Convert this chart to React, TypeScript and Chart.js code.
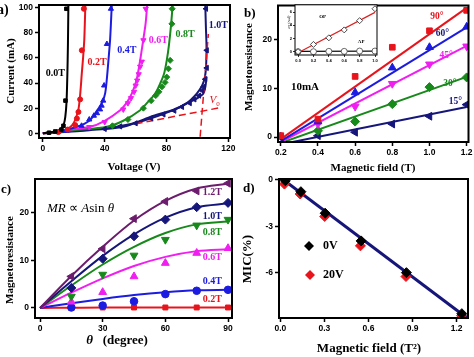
import React, { useEffect, useRef } from "react";
import { Chart, registerables } from "chart.js";
Chart.register(...registerables);

type P = [number, number];

// ---------------- Panel a : I-V curves ----------------
const A_X_TICKS = [0, 40, 80, 120];
const A_Y_TICKS = [0, 20, 40, 60, 80, 100];
const A_LINE_00: P[] = [[0, 0], [5, 0.8], [9, 2], [12, 4], [13.5, 7], [14.5, 13], [15.3, 25], [15.8, 45], [16.2, 70], [16.5, 103]];
const A_PTS_00: P[] = [[4, 0.5], [8, 1.5], [12, 3], [13.3, 6], [14.6, 26], [15.2, 99]];
const A_LINE_02: P[] = [[0, 0], [8, 1], [13, 2], [16, 3.5], [19, 6.5], [21, 11], [23, 19], [24.2, 32], [25.2, 48], [26, 60], [26.8, 75], [27.5, 103]];
const A_PTS_02: P[] = [[10, 1], [16, 3], [20.9, 6.6], [22, 11.8], [23, 17], [24.1, 27], [25.2, 66], [26.5, 99]];
const A_LINE_04: P[] = [[0, 0], [10, 1.5], [22, 5.2], [30, 10], [35, 18], [38.5, 25], [40.3, 32], [41.5, 45], [42.4, 58], [43.5, 75], [44.6, 103]];
const A_PTS_04: P[] = [[15, 2], [25, 6], [30, 11], [33, 14], [35, 16], [37, 19], [38, 22], [39, 26], [39.6, 38], [41.4, 71], [44, 99]];
const A_LINE_06: P[] = [[0, 0], [15, 2.5], [30.6, 5.2], [40, 10], [50, 18.4], [54, 24], [57.5, 31.6], [60.5, 42], [62.9, 58], [65, 75], [66.5, 88], [67.5, 103]];
const A_PTS_06: P[] = [[30, 5], [40, 9], [52, 19], [55, 24], [57, 28], [59, 33], [60, 38], [61, 42], [62, 47], [62.9, 53], [64, 57], [65, 74], [66.5, 99]];
const A_LINE_08: P[] = [[0, 0], [20, 2.5], [41.4, 5.2], [52, 10], [62.9, 18.4], [68, 25], [72.6, 31.6], [76, 40], [78.5, 48], [80.1, 58], [81.5, 70], [82.8, 85], [84, 103]];
const A_PTS_08: P[] = [[45, 6], [55, 11], [65, 20], [70, 26], [73, 30], [75, 33], [77, 37], [79, 40.5], [80.1, 44.7], [81.2, 51.3], [82.3, 58], [83.4, 87], [83.6, 99]];
const A_LINE_10A: P[] = [[0, 0], [25, 2.5], [47.8, 5.2], [65, 10], [84.4, 18.4], [93, 24], [99.5, 31.6], [103, 38], [104.8, 45], [105.6, 55], [105.8, 70], [105.4, 85], [105, 103]];
const A_LINE_10B: P[] = [[0, 0], [30, 2.5], [52.1, 5.2], [69.4, 13.1], [85, 19], [93, 23.7], [100, 28], [103.8, 31.6], [105.2, 38], [105.8, 45]];
const A_PTS_10: P[] = [[40, 3.5], [50, 5.5], [60, 8], [70, 12], [78, 15], [85, 18], [90, 21], [95, 24], [98, 27], [101, 30], [103, 34], [104, 37], [105, 43], [106, 52], [106, 66], [105.5, 99]];
const A_V0_H: P[] = [[60, 7.5], [115, 20.5]];
const A_V0_V: P[] = [[101.7, -2.7], [107, 79]];

// ---------------- Panel b : MR vs field ----------------
const B_X_TICKS = [0.2, 0.4, 0.6, 0.8, 1.0, 1.2];
const B_Y_TICKS = [0, 10, 20];
const B_FIELD = [0.2, 0.4, 0.6, 0.8, 1.0, 1.2];
const B_MR_90 = [0.3, 3.7, 12.5, 18.5, 21.9, 26.1];
const B_MR_60 = [0.1, 3.2, 9.2, 14.3, 18.5, 22.7];
const B_MR_45 = [null, 2.7, 6.3, 11.0, 15.0, 18.7];
const B_MR_30 = [null, 1.3, 3.2, 6.8, 10.3, 12.3];
const B_MR_15 = [0.0, 0.3, 1.0, 2.7, 4.3, 6.7];
const B_FIT_90: P[] = [[0.2, -0.4], [1.2, 26.6]];
const B_FIT_60: P[] = [[0.2, -0.8], [1.2, 22.6]];
const B_FIT_45: P[] = [[0.2, -1.0], [1.2, 18.8]];
const B_FIT_30: P[] = [[0.2, -1.2], [1.2, 12.4]];
const B_FIT_15: P[] = [[0.25, -1.1], [1.2, 6.2]];

// inset
const I_X_TICKS = [0, 0.2, 0.4, 0.6, 0.8, 1.0];
const I_Y_TICKS = [0, 2, 4, 6];
const I_FIELD = [0, 0.2, 0.4, 0.6, 0.8, 1.0];
const I_OP = [0, 1.1, 2.1, 3.3, 4.7, 6.5];
const I_AP = [0, 0, 0.05, 0.05, 0.1, 0.1];
const I_OP_FIT: P[] = [[0, -0.15], [1.0, 5.95]];
const I_AP_FIT: P[] = [[0, 0.05], [1.0, 0.1]];

// ---------------- Panel c : MR vs angle ----------------
const C_X_TICKS = [0, 30, 60, 90];
const C_Y_TICKS = [0, 10, 20];
const C_ANGLE = [15, 30, 45, 60, 75, 90];
const C_FIT_ANGLE = [0, 15, 30, 45, 60, 75, 90];
const C_MR_12 = [6.6, 12.4, 18.7, 22.3, 24.5, 26.1];
const C_MR_10 = [4.2, 10.3, 15.0, 18.5, 21.1, 22.0];
const C_MR_08 = [2.4, 7.0, 11.0, 14.3, 17.3, 18.5];
const C_MR_06 = [1.3, 3.3, 6.6, 9.4, 11.5, 12.5];
const C_MR_04 = [0.1, 0.5, 1.4, 2.9, 3.6, 3.8];
const C_MR_02 = [0.05, 0.1, 0.1, 0.1, 0.1, 0.1];
const C_FIT_12 = [0, 6.7, 12.8, 18.3, 22.4, 25.0, 26.0];
const C_FIT_10 = [0, 5.6, 10.9, 15.4, 18.9, 21.1, 21.9];
const C_FIT_08 = [0, 4.7, 9.1, 12.8, 15.7, 17.5, 18.1];
const C_FIT_06 = [0, 3.2, 6.2, 8.8, 10.7, 11.9, 12.3];
const C_FIT_04 = [0, 1.0, 1.9, 2.7, 3.3, 3.7, 3.8];
const C_FIT_02 = [0, 0.05, 0.1, 0.1, 0.1, 0.1, 0.1];

// ---------------- Panel d : MIC vs B^2 ----------------
const D_X_TICKS = [0, 0.3, 0.6, 0.9, 1.2];
const D_Y_TICKS = [0, -3, -6];
const D_B2_0V = [0.034, 0.14, 0.305, 0.55, 0.858, 1.235];
const D_MIC_0V = [-0.06, -0.77, -2.16, -3.95, -6.0, -8.65];
const D_B2_20V = [0.028, 0.135, 0.302, 0.545, 0.855, 1.233];
const D_MIC_20V = [-0.28, -0.92, -2.37, -4.27, -6.25, -8.78];
const D_FIT: P[] = [[0, 0.15], [1.28, -9.0]];

// ---------------- styling ----------------
const W = 474, H = 357;
const RED = "#e8141c", BLUE = "#1c1ce0", MAG = "#f01ef0", GREEN = "#17891a", NAVY = "#15157a", PURPLE = "#6c1c6c", BLACK = "#000";
const SB = (s: number) => `bold ${s}px "Liberation Serif"`;
const SI = (s: number) => `italic ${s}px "Liberation Serif"`;
const SR = (s: number) => `${s}px "Liberation Serif"`;

type Seg = { t: string; f: string; dy?: number; c?: string };
type Txt = { segs: Seg[]; x: number; y: number; data?: boolean; color?: string; align?: "left" | "center"; rot?: boolean; base?: CanvasTextBaseline };

const T = (t: string, x: number, y: number, color: string, size: number, extra: Partial<Txt> = {}): Txt =>
  ({ segs: [{ t, f: SB(size) }], x, y, color, data: true, align: "center", ...extra });
const PT = (t: string, x: number, y: number, size: number, extra: Partial<Txt> = {}): Txt =>
  ({ segs: [{ t, f: SB(size) }], x, y, color: BLACK, data: false, align: "center", ...extra });

const xy = (a: P[]) => a.map(([x, y]) => ({ x, y }));
const zip = (xs: number[], ys: (number | null)[]) =>
  xs.map((x, i) => ({ x, y: ys[i] })).filter((p) => p.y !== null);

const line = (data: any[], color: string, width = 2, extra: any = {}) => ({
  data, showLine: true, borderColor: color, borderWidth: width, pointRadius: 0, fill: false, ...extra,
});
const marks = (data: any[], color: string, style: string, r = 4, rot = 0, extra: any = {}) => ({
  data, showLine: false, pointStyle: style, pointRadius: r, pointRotation: rot,
  backgroundColor: color, borderColor: color, borderWidth: 1, ...extra,
});

type Panel = {
  rect: { l: number; t: number; r: number; b: number };
  x: [number, number]; y: [number, number];
  xTicks: number[]; yTicks: number[];
  xFmt: (v: number) => string; yFmt: (v: number) => string;
  tickSize: number; tickLen: number; tickPad: number; xh: number; yw: number;
  frame: number; bg?: boolean;
  datasets: any[]; texts: Txt[];
};

const int = (v: number) => String(Math.round(v));
const one = (v: number) => v.toFixed(1);

const PANEL_A: Panel = {
  rect: { l: 39, t: 4, r: 230, b: 138 }, x: [-2.5, 121], y: [-3.7, 102],
  xTicks: A_X_TICKS, yTicks: A_Y_TICKS, xFmt: int, yFmt: int,
  tickSize: 8.5, tickLen: 4, tickPad: 2, xh: 18, yw: 28, frame: 2,
  datasets: [
    marks(xy(A_PTS_00), BLACK, "rect", 2.5),
    marks(xy(A_PTS_02), RED, "circle", 2.5),
    marks(xy(A_PTS_04), BLUE, "triangle", 3),
    marks(xy(A_PTS_06), MAG, "triangle", 3, 180),
    marks(xy(A_PTS_08), GREEN, "rectRot", 3),
    marks(xy(A_PTS_10), NAVY, "triangle", 3, -90),
    line(xy(A_V0_H), RED, 1.5, { borderDash: [7, 4] }),
    line(xy(A_V0_V), RED, 1.5, { borderDash: [7, 4] }),
    line(xy(A_LINE_00), BLACK, 2, { tension: 0.3 }),
    line(xy(A_LINE_02), RED, 2, { tension: 0.3 }),
    line(xy(A_LINE_04), BLUE, 2, { tension: 0.3 }),
    line(xy(A_LINE_06), MAG, 2, { tension: 0.3 }),
    line(xy(A_LINE_08), GREEN, 2, { tension: 0.3 }),
    line(xy(A_LINE_10A), NAVY, 2, { tension: 0.3 }),
    line(xy(A_LINE_10B), NAVY, 2, { tension: 0.3 }),
  ],
  texts: [
    T("0.0T", 8, 48, BLACK, 10), T("0.2T", 35, 56.6, RED, 10), T("0.4T", 54.3, 65.8, BLUE, 10),
    T("0.6T", 74.7, 73.7, MAG, 10), T("0.8T", 92, 79, GREEN, 10), T("1.0T", 113.5, 85.5, NAVY, 10),
    { segs: [{ t: "V", f: SI(11), c: RED }, { t: "0", f: SR(7), dy: 3, c: RED }], x: 107.8, y: 24, data: true, align: "left", base: "alphabetic" },
    PT("a)", -3, 14, 14, { align: "left", base: "alphabetic" }),
    PT("Current (mA)", 11, 71, 11, { rot: true }),
    PT("Voltage (V)", 134, 167, 11),
  ],
};

const PANEL_B: Panel = {
  rect: { l: 278, t: 1, r: 469, b: 142 }, x: [0.185, 1.21], y: [-1, 27.1],
  xTicks: B_X_TICKS, yTicks: B_Y_TICKS, xFmt: one, yFmt: int,
  tickSize: 8.5, tickLen: 4, tickPad: 2, xh: 18, yw: 24, frame: 2,
  datasets: [
    marks(zip(B_FIELD, B_MR_90), RED, "rect", 4),
    marks(zip(B_FIELD, B_MR_60), BLUE, "triangle", 4.5),
    marks(zip(B_FIELD, B_MR_45), MAG, "triangle", 4.5, 180),
    marks(zip(B_FIELD, B_MR_30), GREEN, "rectRot", 4.5),
    marks(zip(B_FIELD, B_MR_15), NAVY, "triangle", 4.5, -90),
    line(xy(B_FIT_90), RED), line(xy(B_FIT_60), BLUE), line(xy(B_FIT_45), MAG),
    line(xy(B_FIT_30), GREEN), line(xy(B_FIT_15), NAVY),
  ],
  texts: [
    T("90°", 1.04, 24.8, RED, 9.5), T("60°", 1.07, 21.3, NAVY, 9.5), T("45°", 1.09, 16.7, MAG, 9.5),
    T("30°", 1.11, 11.1, GREEN, 9.5), T("15°", 1.14, 7.3, NAVY, 9.5), T("10mA", 0.33, 10.3, BLACK, 11),
    PT("b)", 244, 17, 13, { align: "left", base: "alphabetic" }),
    PT("Magnetoresistance", 249, 67, 11, { rot: true }),
    PT("Magnetic field (T)", 373, 168, 11),
  ],
};

const PANEL_INSET: Panel = {
  rect: { l: 295, t: 4, r: 377, b: 55 }, x: [-0.04, 1.026], y: [-0.5, 7.1],
  xTicks: I_X_TICKS, yTicks: I_Y_TICKS, xFmt: one, yFmt: int,
  tickSize: 4, tickLen: 2, tickPad: 1, xh: 8, yw: 6, frame: 1, bg: true,
  datasets: [
    marks(zip(I_FIELD, I_OP), "#fff", "rectRot", 3, 0, { borderColor: "#222", borderWidth: 0.8 }),
    marks(zip(I_FIELD, I_AP), "#fff", "circle", 3, 0, { borderColor: "#444", borderWidth: 0.8 }),
    line(xy(I_OP_FIT), "#d22", 1.2),
    line(xy(I_AP_FIT), "#111", 1.2),
  ],
  texts: [
    T("OP", 0.32, 5.3, BLACK, 5), T("AP", 0.82, 1.5, BLACK, 5),
    { segs: [{ t: "σ", f: SI(4) }, { t: "T", f: SI(3), dy: 1 }, { t: " (rad)", f: SI(4) }], x: 289, y: 22, color: BLACK, align: "center", rot: true },
  ],
};

const PANEL_C: Panel = {
  rect: { l: 35, t: 179, r: 232, b: 318 }, x: [-2.4, 91.9], y: [-2.1, 27.0],
  xTicks: C_X_TICKS, yTicks: C_Y_TICKS, xFmt: int, yFmt: int,
  tickSize: 8.5, tickLen: 4, tickPad: 2, xh: 18, yw: 22, frame: 2,
  datasets: [
    marks(zip(C_ANGLE, C_MR_12), PURPLE, "triangle", 4.5, -90),
    marks(zip(C_ANGLE, C_MR_10), NAVY, "rectRot", 4.5),
    marks(zip(C_ANGLE, C_MR_08), GREEN, "triangle", 4.5, 180),
    marks(zip(C_ANGLE, C_MR_06), MAG, "triangle", 4.5),
    marks(zip(C_ANGLE, C_MR_04), BLUE, "circle", 3.8),
    marks(zip(C_ANGLE, C_MR_02), RED, "rect", 3.5),
    line(zip(C_FIT_ANGLE, C_FIT_12), PURPLE, 2, { cubicInterpolationMode: "monotone" }),
    line(zip(C_FIT_ANGLE, C_FIT_10), NAVY, 2, { cubicInterpolationMode: "monotone" }),
    line(zip(C_FIT_ANGLE, C_FIT_08), GREEN, 2, { cubicInterpolationMode: "monotone" }),
    line(zip(C_FIT_ANGLE, C_FIT_06), MAG, 2, { cubicInterpolationMode: "monotone" }),
    line(zip(C_FIT_ANGLE, C_FIT_04), BLUE, 2, { cubicInterpolationMode: "monotone" }),
    line(zip(C_FIT_ANGLE, C_FIT_02), RED, 2, { cubicInterpolationMode: "monotone" }),
  ],
  texts: [
    T("1.2T", 82.5, 24.1, PURPLE, 10), T("1.0T", 82.5, 19.2, NAVY, 10), T("0.8T", 82.5, 15.8, GREEN, 10),
    T("0.6T", 82.5, 10.5, MAG, 10), T("0.4T", 82.5, 5.6, BLUE, 10), T("0.2T", 82.5, 1.7, RED, 10),
    {
      segs: [{ t: "MR ", f: SI(13) }, { t: "∝ ", f: SR(13) }, { t: "A", f: SI(13) }, { t: "sin", f: SR(13) }, { t: " θ", f: SI(13) }],
      x: 47, y: 212, color: BLACK, align: "left", base: "alphabetic",
    },
    PT("c)", 1, 193, 13, { align: "left", base: "alphabetic" }),
    PT("Magnetoresistance", 10, 260, 11, { rot: true }),
    { segs: [{ t: "θ", f: `italic bold 13px "Liberation Serif"` }, { t: "   (degree)", f: SB(13) }], x: 117, y: 341, color: BLACK, align: "center" },
  ],
};

const PANEL_D: Panel = {
  rect: { l: 279, t: 179, r: 469, b: 318 }, x: [-0.009, 1.277], y: [-8.93, 0.05],
  xTicks: D_X_TICKS, yTicks: D_Y_TICKS, xFmt: one, yFmt: int,
  tickSize: 8.5, tickLen: 4, tickPad: 2, xh: 18, yw: 24, frame: 2,
  datasets: [
    marks(zip(D_B2_0V, D_MIC_0V), BLACK, "rectRot", 5),
    marks(zip(D_B2_20V, D_MIC_20V), RED, "rectRot", 5),
    line(xy(D_FIT), NAVY, 3),
  ],
  texts: [
    PT("0V", 323, 246, 12, { align: "left" }),
    PT("20V", 323, 275, 12, { align: "left" }),
    PT("d)", 243, 192, 13, { align: "left", base: "alphabetic" }),
    PT("MIC(%)", 248, 259, 13, { rot: true }),
    PT("Magnetic field (T²)", 369, 349, 13),
  ],
};

const D_LEGEND = [
  { color: BLACK, x: 309, y: 246 },
  { color: RED, x: 310, y: 275 },
];

const PANELS: Panel[] = [PANEL_A, PANEL_B, PANEL_C, PANEL_D, PANEL_INSET];

function drawSegs(ctx: CanvasRenderingContext2D, segs: Seg[], x: number, y: number, align: string, color: string) {
  let w = 0;
  for (const s of segs) { ctx.font = s.f; w += ctx.measureText(s.t).width; }
  let cx = align === "center" ? x - w / 2 : x;
  ctx.textAlign = "left";
  for (const s of segs) {
    ctx.font = s.f;
    ctx.fillStyle = s.c ?? color;
    ctx.fillText(s.t, cx, y + (s.dy ?? 0));
    cx += ctx.measureText(s.t).width;
  }
}

function makeChart(canvas: HTMLCanvasElement, p: Panel, isD: boolean) {
  const { l, t, r, b } = p.rect;
  const tickFont = { family: '"Liberation Sans", Arial, sans-serif', size: p.tickSize, weight: "bold" as const };
  const axis = (range: [number, number], ticks: number[], fmt: (v: number) => string, horiz: boolean) => ({
    type: "linear" as const,
    min: range[0],
    max: range[1],
    afterBuildTicks: (s: any) => { s.ticks = ticks.map((v) => ({ value: v })); },
    afterFit: (s: any) => {
      if (horiz) { s.height = p.xh; s.paddingLeft = 0; s.paddingRight = 0; }
      else { s.width = p.yw; s.paddingTop = 0; s.paddingBottom = 0; }
    },
    grid: { display: true, drawOnChartArea: false, drawTicks: true, tickLength: p.tickLen, tickColor: "#000", tickWidth: p.frame === 2 ? 1.5 : 0.8 },
    border: { display: false },
    ticks: { font: tickFont, color: "#000", padding: p.tickPad, autoSkip: false, maxRotation: 0, minRotation: 0, callback: (v: any) => fmt(Number(v)) },
  });
  return new Chart(canvas, {
    type: "scatter",
    data: { datasets: p.datasets },
    options: {
      animation: false,
      responsive: false,
      devicePixelRatio: 1,
      events: [],
      layout: { padding: { left: l - p.yw, top: t, right: W - r, bottom: H - b - p.xh } },
      plugins: { legend: { display: false }, tooltip: { enabled: false } },
      scales: { x: axis(p.x, p.xTicks, p.xFmt, true), y: axis(p.y, p.yTicks, p.yFmt, false) },
    } as any,
    plugins: [
      {
        id: "bgfill",
        beforeDraw(chart: any) {
          if (!p.bg) return;
          const a = chart.chartArea, c = chart.ctx;
          c.save(); c.fillStyle = "#fff"; c.fillRect(a.left, a.top, a.right - a.left, a.bottom - a.top); c.restore();
        },
      },
      {
        id: "frameAndText",
        afterDraw(chart: any) {
          const a = chart.chartArea, c: CanvasRenderingContext2D = chart.ctx;
          c.save();
          c.strokeStyle = "#000"; c.lineWidth = p.frame;
          c.strokeRect(a.left, a.top, a.right - a.left, a.bottom - a.top);
          if (isD) {
            for (const lg of D_LEGEND) {
              c.fillStyle = lg.color;
              c.beginPath();
              c.moveTo(lg.x, lg.y - 5); c.lineTo(lg.x + 5, lg.y); c.lineTo(lg.x, lg.y + 5); c.lineTo(lg.x - 5, lg.y); c.closePath();
              c.fill();
            }
          }
          for (const tx of p.texts) {
            let x = tx.x, y = tx.y;
            if (tx.data) { x = chart.scales.x.getPixelForValue(tx.x); y = chart.scales.y.getPixelForValue(tx.y); }
            c.textBaseline = tx.base ?? "middle";
            if (tx.rot) {
              c.save(); c.translate(x, y); c.rotate(-Math.PI / 2);
              drawSegs(c, tx.segs, 0, 0, "center", tx.color ?? "#000");
              c.restore();
            } else {
              drawSegs(c, tx.segs, x, y, tx.align ?? "center", tx.color ?? "#000");
            }
          }
          c.restore();
        },
      },
    ],
  });
}

export default function App() {
  const refs = useRef<(HTMLCanvasElement | null)[]>([]);
  useEffect(() => {
    const charts = PANELS.map((p, i) => makeChart(refs.current[i] as HTMLCanvasElement, p, p === PANEL_D));
    return () => charts.forEach((c) => c.destroy());
  }, []);
  return (
    <div style={{ position: "absolute", left: 0, top: 0, width: W, height: H, overflow: "hidden", background: "#fff" }}>
      {PANELS.map((_, i) => (
        <canvas
          key={i}
          ref={(el) => { refs.current[i] = el; }}
          width={W}
          height={H}
          style={{ position: "absolute", left: 0, top: 0, width: W, height: H }}
        />
      ))}
    </div>
  );
}
